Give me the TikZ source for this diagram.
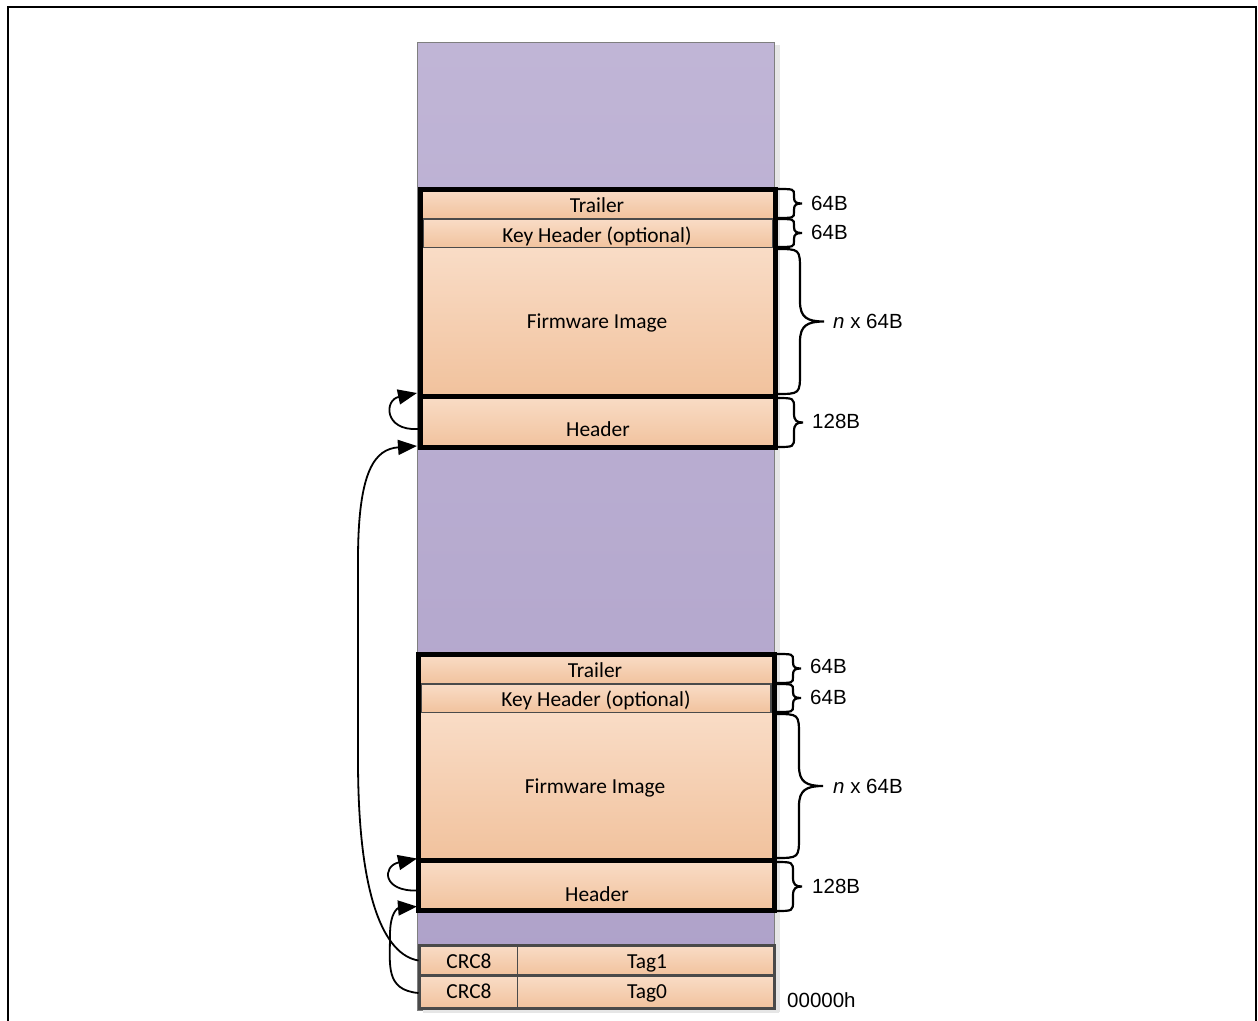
\documentclass[tikz,border=0pt]{standalone}
\usepackage{fontspec}
\setmainfont{Carlito}
\newfontfamily\arialf{Liberation Sans}
\usetikzlibrary{arrows.meta,calc}
\definecolor{orT}{HTML}{F9DCC6}
\definecolor{orB}{HTML}{F1C29D}
\definecolor{puT}{HTML}{C0B5D6}
\definecolor{puB}{HTML}{AEA1C9}
\definecolor{edgegray}{HTML}{4A4A4A}
\definecolor{colgray}{HTML}{7F7F7F}
\definecolor{shadowgray}{HTML}{E6E6E6}
% custom curly brace: left x, top y, bottom y, curl width, tip length, end radius, tip radius
\newcommand\mybrace[7]{%
  \draw[bracestyle] (#1,#2) .. controls ({#1+#4},#2) and ({#1+#4},#2) .. ({#1+#4},{#2+#6})
    -- ({#1+#4},{(#2+#3)/2-#7}) .. controls ({#1+#4},{(#2+#3)/2-0.2*#7}) and ({#1+#4+0.3*#5},{(#2+#3)/2}) .. ({#1+#4+#5},{(#2+#3)/2})
    .. controls ({#1+#4+0.3*#5},{(#2+#3)/2}) and ({#1+#4},{(#2+#3)/2+0.2*#7}) .. ({#1+#4},{(#2+#3)/2+#7})
    -- ({#1+#4},{#3-#6}) .. controls ({#1+#4},#3) and ({#1+#4},#3) .. (#1,#3);}
\begin{document}
\begin{tikzpicture}[x=1pt,y=-1pt,
  cell/.style={rectangle, inner sep=0pt, outer sep=0pt, anchor=north west, top color=orT, bottom color=orB},
  keycell/.style={cell, draw=edgegray, line width=2pt},
  frame/.style={draw=black, line width=5pt, fill=none},
  lbl/.style={font=\fontsize{21.4}{25}\selectfont, inner sep=0pt, anchor=base},
  size/.style={font=\arialf\fontsize{20.5}{24}\selectfont, inner sep=0pt, anchor=base west},
  bracestyle/.style={line width=2.2pt, line cap=round},
  conn/.style={-{Triangle[length=19pt,width=15pt]}, line width=1.8pt}
]
\useasboundingbox (0,0) rectangle (1258,1020);
% outer frame
\draw[line width=2.5pt] (8,1022) -- (8,7) -- (1256,7) -- (1256,1022);
% memory column
\fill[shadowgray] (775,45) rectangle (780,1012);
\node[rectangle, inner sep=0pt, anchor=north west, minimum width=357pt, minimum height=968pt,
  top color=puT, bottom color=puB, draw=colgray, line width=1pt] (mem) at (417,42) {};

% ---------- block 1 ----------
\node[cell, minimum width=353pt, minimum height=30pt] (trl1) at (421,189) {};
\node[keycell, minimum width=350pt, minimum height=29pt] (key1) at (422.5,219) {};
\node[cell, minimum width=353pt, minimum height=148pt] (fw1) at (421,248) {};
\node[cell, minimum width=353pt, minimum height=52pt] (hdr1) at (421,396) {};
\draw[frame] (420,189) rectangle (775,447.5);
\draw[line width=5pt] (420,396) -- (775,396);
\node[lbl] (trl1t) at (597,212) {Trailer};
\node[lbl] (key1t) at (597,242) {Key Header (optional)};
\node[lbl] (fw1t) at (597,328) {Firmware Image};
\node[lbl] (hdr1t) at (598,436) {Header};

\mybrace{776}{189}{218}{18}{8}{6}{6}
\mybrace{776}{219}{247}{18}{8}{6}{6}
\mybrace{776}{249}{394}{24}{24}{22}{20}
\mybrace{776}{398}{447}{18}{9}{10}{9}
\node[size] (s1a) at (811,210) {64B};
\node[size] (s1b) at (811,239) {64B};
\node[size] (s1c) at (833,328) {\textit{n} x 64B};
\node[size] (s1d) at (812,428) {128B};

% ---------- block 2 ----------
\node[cell, minimum width=353pt, minimum height=30pt] (trl2) at (419,654.5) {};
\node[keycell, minimum width=350pt, minimum height=29pt] (key2) at (421,684) {};
\node[cell, minimum width=353pt, minimum height=147pt] (fw2) at (419,713) {};
\node[cell, minimum width=353pt, minimum height=50pt] (hdr2) at (419,860.5) {};
\draw[frame] (418.5,654.5) rectangle (774.5,910.5);
\draw[line width=5pt] (418.5,860.5) -- (774.5,860.5);
\node[lbl] (trl2t) at (595,677) {Trailer};
\node[lbl] (key2t) at (596,706) {Key Header (optional)};
\node[lbl] (fw2t) at (595,793) {Firmware Image};
\node[lbl] (hdr2t) at (597,901) {Header};

\mybrace{775}{654}{683}{18}{8}{6}{6}
\mybrace{775}{684}{712}{18}{8}{6}{6}
\mybrace{775}{714}{858}{24}{24}{22}{20}
\mybrace{775}{862}{911}{18}{9}{10}{9}
\node[size] (s2a) at (810,673) {64B};
\node[size] (s2b) at (810,704) {64B};
\node[size] (s2c) at (833,793) {\textit{n} x 64B};
\node[size] (s2d) at (812,893) {128B};

% ---------- tags ----------
\fill[shadowgray] (423,949) rectangle (779,1013);
\node[cell, minimum width=355pt, minimum height=30pt, draw=edgegray, line width=3.5pt] (tag1) at (419.5,945.5) {};
\node[cell, minimum width=355pt, minimum height=33pt, draw=edgegray, line width=3.5pt] (tag0) at (419.5,975.5) {};
\draw[edgegray, line width=1pt] (517,945.5) -- (517,1008.5);
\node[lbl] (crc1) at (469,968) {CRC8};
\node[lbl] (crc0) at (469,998) {CRC8};
\node[lbl] (tag1t) at (647,968) {Tag1};
\node[lbl] (tag0t) at (647,998) {Tag0};
\node[size] (addr) at (787,1007) {00000h};

% ---------- connectors ----------
\coordinate (h1in) at ($(hdr1.north west)+(-4,-3)$);
\coordinate (h1bot) at ($(hdr1.south west)+(-4,-2)$);
\coordinate (h1out) at ($(hdr1.north west)+(-3,33)$);
\coordinate (h2in) at ($(hdr2.north west)+(-2,-2)$);
\coordinate (h2bot) at ($(hdr2.south west)+(-2,-4)$);
\coordinate (h2out) at ($(hdr2.north west)+(-1,30)$);
\coordinate (t1out) at ($(tag1.west)+(-1,0)$);
\coordinate (t0out) at ($(tag0.west)+(-1,1)$);

\draw[conn] (h1out) .. controls (384,431) and (384,400) .. (h1in);
\draw[conn] (h2out) .. controls (382,892) and (382,866) .. (h2in);
\draw[conn] (t1out) .. controls (385,955) and (358,900) .. (358,760)
   -- (358,560) .. controls (358,470) and (375,449) .. (h1bot);
\draw[conn] (t0out) .. controls (385,990) and (390,965) .. (390,935)
   .. controls (390,912) and (398,908) .. (h2bot);
\end{tikzpicture}
\end{document}
